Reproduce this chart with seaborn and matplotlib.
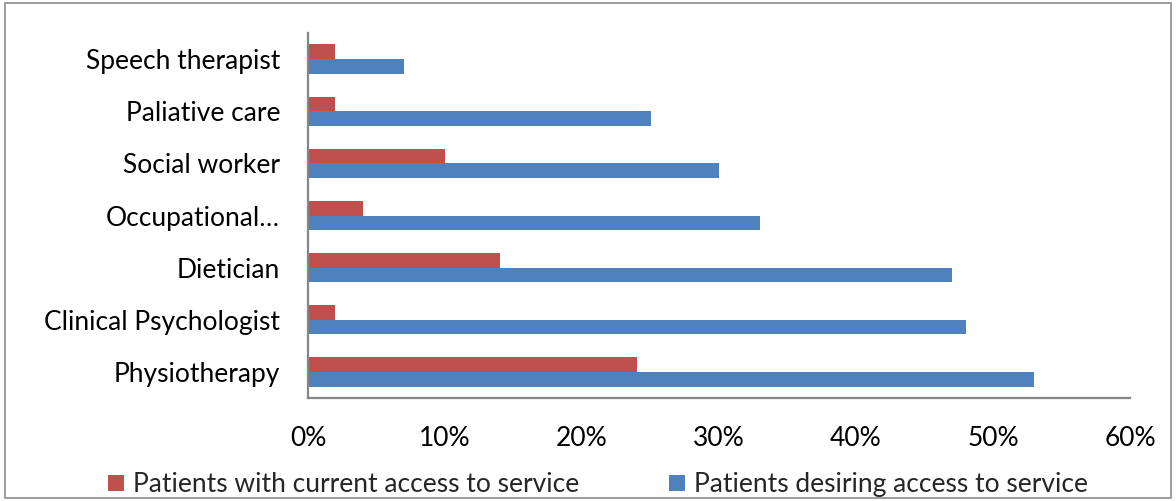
import matplotlib
matplotlib.use("Agg")
import matplotlib.pyplot as plt
from matplotlib.patches import Rectangle
from matplotlib.ticker import FuncFormatter, FixedLocator
import seaborn as sns
import pandas as pd

# Services, listed top to bottom
services = ["Speech therapist", "Paliative care", "Social worker", "Occupational…",
            "Dietician", "Clinical Psychologist", "Physiotherapy"]
current_access = [2, 2, 10, 4, 14, 2, 24]
desired_access = [7, 25, 30, 33, 47, 48, 53]
series_names = ["Patients with current access to service",
                "Patients desiring access to service"]
x_ticks = [0, 10, 20, 30, 40, 50, 60]

df = pd.DataFrame({
    "service": services * 2,
    "pct": current_access + desired_access,
    "series": [series_names[0]] * len(services) + [series_names[1]] * len(services),
})

sns.set_style("white")
plt.rcParams["font.family"] = ["Lato", "DejaVu Sans"]

fig = plt.figure(figsize=(11.76, 5.01), dpi=100)
ax = fig.add_axes([0.2619, 0.2056, 0.6990, 0.7285])

palette = {series_names[0]: "#C0504D", series_names[1]: "#4F81BD"}
sns.barplot(data=df, y="service", x="pct", hue="series", order=services,
            hue_order=series_names, palette=palette, orient="h",
            width=0.56, ax=ax, saturation=1, legend=True, linewidth=0)

axis_gray = "#868686"
fs = 19
ax.set_xlim(0, 60)
ax.set_ylim(len(services) - 0.5, -0.5)
ax.xaxis.set_major_locator(FixedLocator(x_ticks))
ax.xaxis.set_major_formatter(FuncFormatter(lambda v, p: f"{v:.0f}%"))
ax.set_xlabel("")
ax.set_ylabel("")

for side in ["top", "right"]:
    ax.spines[side].set_visible(False)
for side in ["left", "bottom"]:
    ax.spines[side].set_color(axis_gray)
    ax.spines[side].set_linewidth(1.6)

ax.tick_params(axis="x", which="major", direction="out", length=7, width=1.6,
               color=axis_gray, labelsize=fs, pad=13, labelcolor="black")
ax.tick_params(axis="y", which="major", length=0, labelsize=fs, pad=20,
               labelcolor="black")
ax.yaxis.set_minor_locator(FixedLocator([i - 0.5 for i in range(len(services) + 1)]))
ax.tick_params(axis="y", which="minor", direction="out", length=7, width=1.6,
               color=axis_gray)

handles, labels = ax.get_legend_handles_labels()
ax.get_legend().remove()
fig.legend(handles, labels, loc="lower center", bbox_to_anchor=(0.5085, -0.04),
           ncol=2, frameon=False, fontsize=fs, handlelength=0.6,
           handleheight=0.6, handletextpad=0.35, columnspacing=3.4)

fig.patches.append(Rectangle((0.004, 0.006), 0.992, 0.988, transform=fig.transFigure,
                             fill=False, edgecolor="#8c8c8c", linewidth=1.2))

fig.savefig("out.png", dpi=100)
